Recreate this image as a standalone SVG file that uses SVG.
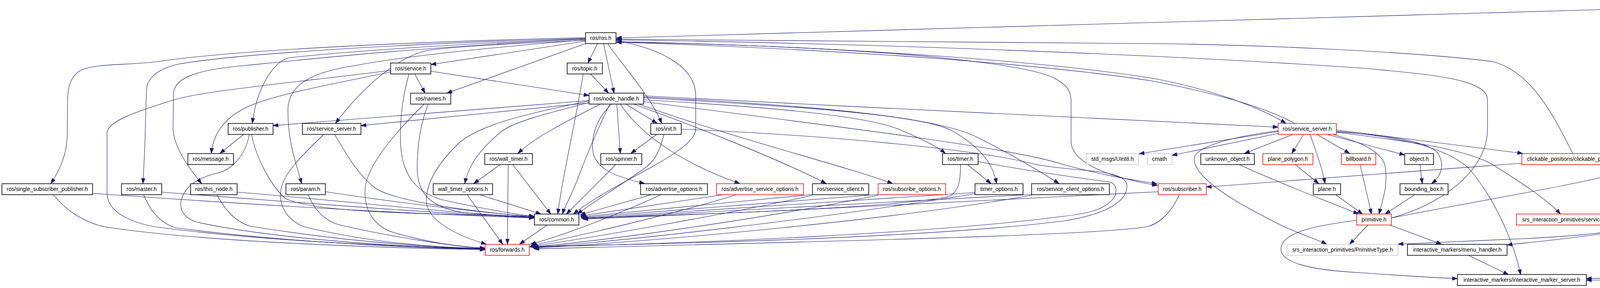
<svg xmlns="http://www.w3.org/2000/svg" width="6616" height="736" viewBox="0 0 6616 736">
<style>
.e{fill:none;stroke:#191970;stroke-width:1.1}
.n rect{fill:#fff;stroke:#000;stroke-width:1.6}
.r rect{fill:#fff;stroke:#ff0000;stroke-width:1.5}
.g rect{fill:#fff;stroke:#bfbfbf;stroke-width:1.3}
.root rect{fill:#bfbfbf;stroke:#000;stroke-width:1.6}
text{font-family:"Liberation Sans",Arial,sans-serif;font-size:14px;text-anchor:middle;fill:#000}
</style>
<defs>
<marker id="a" markerUnits="userSpaceOnUse" markerWidth="14" markerHeight="10" refX="13" refY="4.6" orient="auto" overflow="visible"><path d="M0,0L13,4.6L0,9.2z" fill="#191970" stroke="#191970" stroke-width="1"/></marker>
</defs>
<rect width="6616" height="736" fill="#fff"/>
<g id="edges" marker-end="url(#a)">
<path class="e" marker-end="url(#a)" d="M4187,22 C3000,55 2000,85 1578,97"/>
<path class="e" marker-end="url(#a)" d="M4330,30 C4470,75 4527,140 4527,200 L4527,330 C4527,400 4600,440 4672,469"/>
<path class="e" marker-end="url(#a)" d="M4258,34 L4258,500 C4258,560 4210,580 4150,590 C4040,608 3930,618 3858,626"/>
<path class="e" marker-end="url(#a)" d="M4330,21 C5000,35 5800,70 6300,110 C6500,130 6609,150 6609,200 L6609,550 C6609,600 6500,625 6300,645 C5800,685 4800,708 4061,716"/>
<path class="e" marker-end="url(#a)" d="M1499,105 L1103,165"/>
<path class="e" marker-end="url(#a)" d="M1500,111 L1144,238"/>
<path class="e" marker-end="url(#a)" d="M1530,111 L1505,161"/>
<path class="e" marker-end="url(#a)" d="M1545,111 L1572,238"/>
<path class="e" marker-end="url(#a)" d="M1555,111 C1600,175 1665,245 1694,315"/>
<path class="e" marker-end="url(#a)" d="M1577,104 C1700,125 1781,175 1781,244 L1781,330 C1781,390 1560,470 1468,547"/>
<path class="e" marker-end="url(#a)" d="M1499,99 C1150,112 850,135 737,148 C690,165 655,240 646,315"/>
<path class="e" marker-end="url(#a)" d="M1499,103 C1300,112 1150,120 1094,129 C1020,145 930,220 859,315"/>
<path class="e" marker-end="url(#a)" d="M1499,96 C1000,108 600,130 421,155 C340,168 260,160 210,178 C180,192 173,225 173,260 L172,347 C171,400 150,440 130,469"/>
<path class="e" marker-end="url(#a)" d="M1499,98 C1050,110 600,138 456,164 C410,175 377,195 375,230 L372,329 C371,380 368,430 366,469"/>
<path class="e" marker-end="url(#a)" d="M1499,100 C1100,118 800,150 631,167 C500,178 445,200 444,240 L443,329 C445,375 480,425 516,469"/>
<path class="e" marker-end="url(#a)" d="M1499,102 C1200,125 1000,150 912,167 C790,185 737,220 737,282 C737,370 760,420 772,469"/>
<path class="e" marker-end="url(#a)" d="M1577,108 C2100,115 2600,150 2700,200 C2735,220 2742,235 2742,260 L2742,361 C2742,420 2850,455 2963,474"/>
<path class="e" marker-end="url(#a)" d="M1577,106 C2200,120 2700,160 2950,200 C3100,228 3220,272 3292,315"/>
<path class="e" marker-end="url(#a)" d="M3314,315 C3230,270 3100,236 2950,207 C2700,168 2200,127 1578,108"/>
<path class="e" marker-end="url(#a)" d="M3562,557 C3700,520 3808,430 3808,330 L3808,255 C3808,200 3650,190 3500,175 C3000,140 2200,110 1578,102"/>
<path class="e" marker-end="url(#a)" d="M4026,392 C3980,300 3920,180 3819,157 C3600,130 3200,115 3000,112 C2500,105 2000,100 1578,100"/>
<path class="e" marker-end="url(#a)" d="M1062,189 L1088,238"/>
<path class="e" marker-end="url(#a)" d="M1103,182 L1508,244"/>
<path class="e" marker-end="url(#a)" d="M1047,189 C1030,250 1025,300 1025,352 C1025,440 1060,490 1130,510 C1220,530 1300,545 1368,553"/>
<path class="e" marker-end="url(#a)" d="M1000,184 C850,215 680,245 620,280 C565,310 545,350 541,392"/>
<path class="e" marker-end="url(#a)" d="M1000,180 C760,210 520,232 442,256 C350,285 274,310 274,340 L274,493 C274,540 330,568 400,580 C700,620 1100,632 1242,636"/>
<path class="e" marker-end="url(#a)" d="M1512,189 L1558,238"/>
<path class="e" marker-end="url(#a)" d="M1493,189 C1470,330 1440,450 1428,547"/>
<path class="e" marker-end="url(#a)" d="M1096,266 C1075,320 1068,380 1068,430 C1068,500 1110,530 1180,542 C1260,552 1320,555 1368,557"/>
<path class="e" marker-end="url(#a)" d="M1086,266 C1020,330 940,420 935,480 C930,540 960,580 1010,595 C1100,620 1180,632 1242,634"/>
<path class="e" marker-end="url(#a)" d="M1602,266 L1682,315"/>
<path class="e" marker-end="url(#a)" d="M1579,266 L1588,392"/>
<path class="e" marker-end="url(#a)" d="M1537,266 C1450,310 1370,350 1326,392"/>
<path class="e" marker-end="url(#a)" d="M1508,262 C1400,290 1320,310 1285,335 C1230,380 1200,420 1190,469"/>
<path class="e" marker-end="url(#a)" d="M1508,258 C1350,290 1220,320 1170,370 C1110,430 1088,480 1092,520 C1100,570 1180,605 1245,624"/>
<path class="e" marker-end="url(#a)" d="M1561,266 C1530,330 1500,400 1478,460 C1460,505 1445,530 1440,547"/>
<path class="e" marker-end="url(#a)" d="M1566,266 C1530,300 1515,340 1517,380 C1520,430 1570,450 1650,469"/>
<path class="e" marker-end="url(#a)" d="M1588,266 C1650,360 1780,430 1894,469"/>
<path class="e" marker-end="url(#a)" d="M1622,266 C1800,330 2000,410 2115,469"/>
<path class="e" marker-end="url(#a)" d="M1635,266 C1900,360 2150,420 2285,469"/>
<path class="e" marker-end="url(#a)" d="M1648,255 C1900,270 2200,290 2300,330 C2360,355 2400,375 2420,392"/>
<path class="e" marker-end="url(#a)" d="M1648,250 C2000,270 2350,290 2435,333 C2520,380 2545,430 2551,469"/>
<path class="e" marker-end="url(#a)" d="M1648,248 C2100,270 2400,300 2500,350 C2580,390 2650,430 2711,469"/>
<path class="e" marker-end="url(#a)" d="M1648,245 C2200,275 2900,305 3272,325"/>
<path class="e" marker-end="url(#a)" d="M1648,260 C2200,330 2600,380 2720,420 C2850,455 2920,462 2962,470"/>
<path class="e" marker-end="url(#a)" d="M1508,257 L699,321"/>
<path class="e" marker-end="url(#a)" d="M1508,263 L924,321"/>
<path class="e" marker-end="url(#a)" d="M1682,343 L1615,392"/>
<path class="e" marker-end="url(#a)" d="M1700,343 C1690,380 1680,410 1650,430 C1580,480 1520,515 1478,547"/>
<path class="e" marker-end="url(#a)" d="M1744,330 C2100,345 2500,380 2650,420 C2750,440 2885,430 2885,475 C2885,520 2820,550 2720,565 C2400,605 1800,622 1356,630"/>
<path class="e" marker-end="url(#a)" d="M623,344 L563,392"/>
<path class="e" marker-end="url(#a)" d="M644,344 C655,400 690,470 730,507 C800,540 1000,545 1368,553"/>
<path class="e" marker-end="url(#a)" d="M638,344 C630,390 600,430 561,441 C500,455 470,480 463,516 C460,545 480,560 505,568 C700,610 1000,630 1242,637"/>
<path class="e" marker-end="url(#a)" d="M857,344 C890,400 920,450 960,480 C1010,515 1200,540 1368,554"/>
<path class="e" marker-end="url(#a)" d="M828,344 C770,400 730,440 720,480 C710,530 740,565 780,580 C950,620 1100,632 1242,635"/>
<path class="e" marker-end="url(#a)" d="M237,494 C600,520 1000,545 1368,557"/>
<path class="e" marker-end="url(#a)" d="M137,498 C170,540 220,570 270,580 C500,615 900,632 1242,638"/>
<path class="e" marker-end="url(#a)" d="M414,491 C800,520 1100,545 1368,556"/>
<path class="e" marker-end="url(#a)" d="M368,498 C385,540 410,570 449,582 C700,615 1000,632 1242,637"/>
<path class="e" marker-end="url(#a)" d="M607,491 C900,515 1150,545 1368,555"/>
<path class="e" marker-end="url(#a)" d="M556,498 C575,535 600,565 640,578 C850,612 1050,630 1242,636"/>
<path class="e" marker-end="url(#a)" d="M833,490 C1000,515 1200,540 1368,554"/>
<path class="e" marker-end="url(#a)" d="M789,498 C805,535 830,565 870,575 C1000,605 1150,628 1242,635"/>
<path class="e" marker-end="url(#a)" d="M1280,421 L1213,469"/>
<path class="e" marker-end="url(#a)" d="M1301,421 L1299,624"/>
<path class="e" marker-end="url(#a)" d="M1313,421 L1410,547"/>
<path class="e" marker-end="url(#a)" d="M1229,498 L1385,547"/>
<path class="e" marker-end="url(#a)" d="M1196,498 L1287,624"/>
<path class="e" marker-end="url(#a)" d="M1576,421 L1450,547"/>
<path class="e" marker-end="url(#a)" d="M1401,575 L1330,624"/>
<path class="e" marker-end="url(#a)" d="M1666,498 L1485,549"/>
<path class="e" marker-end="url(#a)" d="M1691,498 C1600,540 1450,600 1358,624"/>
<path class="e" marker-end="url(#a)" d="M1849,498 L1486,552"/>
<path class="e" marker-end="url(#a)" d="M1884,498 C1750,540 1500,600 1360,627"/>
<path class="e" marker-end="url(#a)" d="M2080,497 L1487,554"/>
<path class="e" marker-end="url(#a)" d="M2080,499 C1850,550 1500,610 1362,629"/>
<path class="e" marker-end="url(#a)" d="M2248,497 L1488,556"/>
<path class="e" marker-end="url(#a)" d="M2248,499 C1950,560 1550,615 1364,631"/>
<path class="e" marker-end="url(#a)" d="M2477,421 L2537,469"/>
<path class="e" marker-end="url(#a)" d="M2459,421 C2459,460 2455,490 2430,502 C2300,530 1800,548 1489,557"/>
<path class="e" marker-end="url(#a)" d="M2504,413 C2650,440 2800,460 2840,465 C2860,470 2860,490 2852,505 C2830,535 2790,545 2720,553 C2400,595 1800,622 1357,631"/>
<path class="e" marker-end="url(#a)" d="M2496,492 L1490,558"/>
<path class="e" marker-end="url(#a)" d="M2496,495 C2100,560 1600,615 1365,633"/>
<path class="e" marker-end="url(#a)" d="M2641,497 L1491,559"/>
<path class="e" marker-end="url(#a)" d="M2641,499 C2300,560 1700,615 1366,634"/>
<path class="e" marker-end="url(#a)" d="M2965,490 C2700,507 2000,540 1492,560"/>
<path class="e" marker-end="url(#a)" d="M3019,498 C3000,540 2970,570 2941,578 C2850,600 2200,615 1367,636"/>
<path class="e" marker-end="url(#a)" d="M3272,336 L2916,393"/>
<path class="e" marker-end="url(#a)" d="M3272,341 L3000,397"/>
<path class="e" marker-end="url(#a)" d="M3309,344 L3186,392"/>
<path class="e" marker-end="url(#a)" d="M3337,344 L3307,392"/>
<path class="e" marker-end="url(#a)" d="M3354,344 C3370,390 3385,430 3392,469"/>
<path class="e" marker-end="url(#a)" d="M3372,344 L3455,392"/>
<path class="e" marker-end="url(#a)" d="M3399,344 L3596,396"/>
<path class="e" marker-end="url(#a)" d="M3414,344 C3470,360 3530,380 3545,420 C3555,470 3540,510 3530,547"/>
<path class="e" marker-end="url(#a)" d="M3421,337 C3550,345 3650,360 3680,390 C3700,420 3690,450 3665,469"/>
<path class="e" marker-end="url(#a)" d="M3421,332 L3898,392"/>
<path class="e" marker-end="url(#a)" d="M3421,338 C3600,360 3750,380 3820,420 C3900,470 3960,510 3995,547"/>
<path class="e" marker-end="url(#a)" d="M3421,335 C3580,350 3700,375 3760,430 C3820,500 3870,600 3893,702"/>
<path class="e" marker-end="url(#a)" d="M3272,334 C3150,350 3060,375 3057,405 C3055,450 3150,510 3240,555 C3300,590 3370,610 3396,624"/>
<path class="e" marker-end="url(#a)" d="M3896,417 L3088,478"/>
<path class="e" marker-end="url(#a)" d="M3173,421 C3280,470 3400,515 3478,547"/>
<path class="e" marker-end="url(#a)" d="M3316,421 L3376,469"/>
<path class="e" marker-end="url(#a)" d="M3420,498 L3488,547"/>
<path class="e" marker-end="url(#a)" d="M3482,421 L3511,547"/>
<path class="e" marker-end="url(#a)" d="M3635,421 L3641,469"/>
<path class="e" marker-end="url(#a)" d="M3621,498 L3546,547"/>
<path class="e" marker-end="url(#a)" d="M3502,575 L3455,624"/>
<path class="e" marker-end="url(#a)" d="M3558,575 L3690,624"/>
<path class="e" marker-end="url(#a)" d="M3473,563 C3380,575 3290,590 3280,630 C3270,670 3350,690 3483,697 C3600,705 3680,710 3731,712"/>
<path class="e" marker-end="url(#a)" d="M3562,557 C3800,510 4050,470 4150,440 C4200,400 4207,330 4207,250 L4207,160 C4207,100 4230,60 4246,34"/>
<path class="e" marker-end="url(#a)" d="M3758,652 L3862,702"/>
<path class="e" marker-end="url(#a)" d="M4171,409 C5000,430 5900,460 6300,490 C6500,510 6540,535 6540,561 C6540,610 6300,640 6000,660 C5200,690 4400,705 4061,712"/>
<path class="e" marker-end="url(#a)" d="M4164,421 L4613,469"/>
<path class="e" marker-end="url(#a)" d="M4612,497 C4450,515 4250,535 4161,547"/>
<path class="e" marker-end="url(#a)" d="M4612,497 C4450,520 4320,530 4250,560 C4200,585 4100,600 3900,610 C3750,617 3650,620 3579,624"/>
<path class="e" marker-end="url(#a)" d="M4686,497 L4487,547"/>
<path class="e" marker-end="url(#a)" d="M4744,497 L4744,547"/>
<path class="e" marker-end="url(#a)" d="M4801,497 L4988,547"/>
<path class="e" marker-end="url(#a)" d="M4858,497 L5264,547"/>
<path class="e" marker-end="url(#a)" d="M4876,493 C5100,510 5400,535 5567,547"/>
<path class="e" marker-end="url(#a)" d="M4876,490 C5200,505 5600,530 5869,547"/>
<path class="e" marker-end="url(#a)" d="M4876,488 C5300,500 5900,525 6227,547"/>
</g>
<g id="node-update" class="root"><rect x="4187" y="6" width="143" height="28"/><text x="4258.5" y="24.5">update_publisher.h</text></g>
<g id="node-ros" class="n"><rect x="1499" y="83.5" width="78" height="28"/><text x="1538" y="102">ros/ros.h</text></g>
<g id="node-service" class="n"><rect x="1000" y="161" width="103" height="28"/><text x="1051.5" y="179.5">ros/service.h</text></g>
<g id="node-topic" class="n"><rect x="1452" y="161" width="90" height="28"/><text x="1497" y="179.5">ros/topic.h</text></g>
<g id="node-names" class="n"><rect x="1051" y="238" width="103" height="28"/><text x="1102.5" y="256.5">ros/names.h</text></g>
<g id="node-node-handle" class="n"><rect x="1508" y="238" width="140" height="28"/><text x="1578" y="256.5">ros/node_handle.h</text></g>
<g id="node-publisher" class="n"><rect x="584" y="315.5" width="115" height="28"/><text x="641.5" y="334">ros/publisher.h</text></g>
<g id="node-service-server-ros" class="n"><rect x="774" y="315.5" width="150" height="28"/><text x="849" y="334">ros/service_server.h</text></g>
<g id="node-init" class="n"><rect x="1666" y="315.5" width="78" height="28"/><text x="1705" y="334">ros/init.h</text></g>
<g id="node-service-server-srs" class="r"><rect x="3272" y="315.5" width="149" height="28"/><text x="3346.5" y="334">ros/service_server.h</text></g>
<g id="node-message" class="n"><rect x="481" y="392.5" width="117" height="28"/><text x="539.5" y="411">ros/message.h</text></g>
<g id="node-wall-timer" class="n"><rect x="1241" y="392.5" width="122" height="28"/><text x="1302" y="411">ros/wall_timer.h</text></g>
<g id="node-spinner" class="n"><rect x="1538" y="392.5" width="105" height="28"/><text x="1590.5" y="411">ros/spinner.h</text></g>
<g id="node-timer" class="n"><rect x="2413" y="392.5" width="91" height="28"/><text x="2458.5" y="411">ros/timer.h</text></g>
<g id="node-uint8" class="g"><rect x="2781" y="392.5" width="134" height="28"/><text x="2848" y="411">std_msgs/UInt8.h</text></g>
<g id="node-cmath" class="g"><rect x="2937" y="392.5" width="63" height="28"/><text x="2968.5" y="411">cmath</text></g>
<g id="node-unknown-object" class="n"><rect x="3074" y="392.5" width="137" height="28"/><text x="3142.5" y="411">unknown_object.h</text></g>
<g id="node-plane-polygon" class="r"><rect x="3233" y="392.5" width="128" height="28"/><text x="3297" y="411">plane_polygon.h</text></g>
<g id="node-billboard" class="r"><rect x="3434" y="392.5" width="88" height="28"/><text x="3478" y="411">billboard.h</text></g>
<g id="node-object" class="n"><rect x="3596" y="392.5" width="74" height="28"/><text x="3633" y="411">object.h</text></g>
<g id="node-clickable" class="r"><rect x="3896" y="392.5" width="275" height="28"/><text x="4033.5" y="411">clickable_positions/clickable_positions.h</text></g>
<g id="node-ssp" class="n"><rect x="5" y="469.5" width="232" height="28"/><text x="121" y="488">ros/single_subscriber_publisher.h</text></g>
<g id="node-master" class="n"><rect x="311" y="469.5" width="103" height="28"/><text x="362.5" y="488">ros/master.h</text></g>
<g id="node-this-node" class="n"><rect x="488" y="469.5" width="119" height="28"/><text x="547.5" y="488">ros/this_node.h</text></g>
<g id="node-param" class="n"><rect x="732" y="469.5" width="101" height="28"/><text x="782.5" y="488">ros/param.h</text></g>
<g id="node-wall-timer-options" class="n"><rect x="1109" y="469.5" width="152" height="28"/><text x="1185" y="488">wall_timer_options.h</text></g>
<g id="node-advertise-options" class="n"><rect x="1640" y="469.5" width="171" height="28"/><text x="1725.5" y="488">ros/advertise_options.h</text></g>
<g id="node-advertise-service-options" class="r"><rect x="1834" y="469.5" width="223" height="28"/><text x="1945.5" y="488">ros/advertise_service_options.h</text></g>
<g id="node-service-client" class="n"><rect x="2080" y="469.5" width="144" height="28"/><text x="2152" y="488">ros/service_client.h</text></g>
<g id="node-subscribe-options" class="r"><rect x="2248" y="469.5" width="173" height="28"/><text x="2334.5" y="488">ros/subscribe_options.h</text></g>
<g id="node-timer-options" class="n"><rect x="2496" y="469.5" width="123" height="28"/><text x="2557.5" y="488">timer_options.h</text></g>
<g id="node-service-client-options" class="n"><rect x="2641" y="469.5" width="199" height="28"/><text x="2740.5" y="488">ros/service_client_options.h</text></g>
<g id="node-subscriber" class="r"><rect x="2965" y="469.5" width="123" height="28"/><text x="3026.5" y="488">ros/subscriber.h</text></g>
<g id="node-plane" class="n"><rect x="3362" y="469.5" width="70" height="28"/><text x="3397" y="488">plane.h</text></g>
<g id="node-bounding-box" class="n"><rect x="3584" y="469.5" width="123" height="28"/><text x="3645.5" y="488">bounding_box.h</text></g>
<g id="node-topics-list" class="n"><rect x="4612" y="469.5" width="264" height="28"/><text x="4744" y="488">srs_interaction_primitives/topics_list.h</text></g>
<g id="node-common" class="n"><rect x="1368" y="547" width="114" height="28"/><text x="1425" y="565.5">ros/common.h</text></g>
<g id="node-primitive" class="r"><rect x="3473" y="547" width="89" height="28"/><text x="3517.5" y="565.5">primitive.h</text></g>
<g id="node-services-list" class="r"><rect x="3882" y="547" width="279" height="28"/><text x="4021.5" y="565.5">srs_interaction_primitives/services_list.h</text></g>
<g id="node-pose-changed" class="g"><rect x="4284" y="547" width="289" height="28"/><text x="4428.5" y="565.5">srs_interaction_primitives/PoseChanged.h</text></g>
<g id="node-scale-changed" class="g"><rect x="4597" y="547" width="293" height="28"/><text x="4743.5" y="565.5">srs_interaction_primitives/ScaleChanged.h</text></g>
<g id="node-menu-clicked" class="g"><rect x="4914" y="547" width="281" height="28"/><text x="5054.5" y="565.5">srs_interaction_primitives/MenuClicked.h</text></g>
<g id="node-movement-changed" class="g"><rect x="5218" y="547" width="326" height="28"/><text x="5381" y="565.5">srs_interaction_primitives/MovementChanged.h</text></g>
<g id="node-tag-changed" class="g"><rect x="5567" y="547" width="279" height="28"/><text x="5706.5" y="565.5">srs_interaction_primitives/TagChanged.h</text></g>
<g id="node-move-arm" class="g"><rect x="5869" y="547" width="334" height="28"/><text x="6036" y="565.5">srs_interaction_primitives/MoveArmToPreGrasp.h</text></g>
<g id="node-position-clicked" class="g"><rect x="6227" y="547" width="296" height="28"/><text x="6375" y="565.5">srs_interaction_primitives/PositionClicked.h</text></g>
<g id="node-forwards" class="r"><rect x="1242" y="624.5" width="113" height="28"/><text x="1298.5" y="643">ros/forwards.h</text></g>
<g id="node-primitive-type" class="g"><rect x="3295" y="624.5" width="284" height="28"/><text x="3437" y="643">srs_interaction_primitives/PrimitiveType.h</text></g>
<g id="node-menu-handler" class="n"><rect x="3603" y="624.5" width="255" height="28"/><text x="3730.5" y="643">interactive_markers/menu_handler.h</text></g>
<g id="node-ims" class="n"><rect x="3731" y="701.5" width="330" height="28"/><text x="3896" y="720">interactive_markers/interactive_marker_server.h</text></g>
</svg>
